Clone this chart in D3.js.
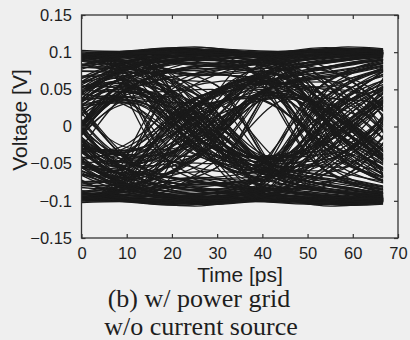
<!DOCTYPE html>
<html>
<head>
<meta charset="utf-8">
<script src="https://cdn.jsdelivr.net/npm/d3@7"></script>
<style>
  body { margin: 0; background: #efefef; }
  svg { display: block; }
</style>
</head>
<body>
<svg id="chart" width="410" height="340"></svg>
<script>
// sample instants (ps): crossing, bit centre, crossing, bit centre, crossing, bit centre
const sampleTimes = [-7, 9, 25, 41, 57, 73];
const traceEnd = 66.7;
const timeTicks = [0, 10, 20, 30, 40, 50, 60, 70];
const voltTicks = [-0.15, -0.1, -0.05, 0, 0.05, 0.1, 0.15];

// each row: voltage [V] at sampleTimes, then the trace's timing offset [ps]
const tracesHHH = [
  [0.098, 0.100, 0.103, 0.099, 0.101, 0.098, 0],
  [0.095, 0.097, 0.099, 0.100, 0.104, 0.099, 2],
  [0.100, 0.099, 0.105, 0.098, 0.100, 0.096, -2],
  [0.093, 0.096, 0.100, 0.097, 0.099, 0.100, 3],
  [0.097, 0.100, 0.102, 0.100, 0.103, 0.097, -3],
  [0.099, 0.098, 0.098, 0.096, 0.098, 0.099, 1],
  [0.094, 0.099, 0.104, 0.099, 0.105, 0.100, -1],
  [0.096, 0.097, 0.101, 0.100, 0.100, 0.095, 4],
  [0.012, 0.078, 0.097, 0.099, 0.101, 0.098, 0],
  [-0.030, 0.070, 0.094, 0.100, 0.103, 0.100, 3],
  [0.038, 0.083, 0.099, 0.098, 0.100, 0.097, -2],
  [0.000, 0.074, 0.096, 0.097, 0.102, 0.099, -5],
  [-0.045, 0.066, 0.092, 0.099, 0.099, 0.096, 2],
  [0.025, 0.080, 0.100, 0.100, 0.104, 0.100, -1],
  [-0.012, 0.072, 0.095, 0.096, 0.098, 0.098, 5],
  [0.050, 0.085, 0.101, 0.099, 0.101, 0.097, 1],
  [0.101, 0.094, 0.106, 0.095, 0.107, 0.099, 2],
  [0.090, 0.092, 0.098, 0.094, 0.097, 0.098, -4],
  [0.104, 0.101, 0.107, 0.097, 0.104, 0.100, 0],
  [0.088, 0.090, 0.096, 0.092, 0.099, 0.096, 5],
  [0.055, 0.088, 0.103, 0.097, 0.106, 0.100, -3],
  [-0.055, 0.060, 0.090, 0.094, 0.101, 0.099, 4],
  [0.030, 0.086, 0.104, 0.101, 0.105, 0.098, 4],
  [-0.035, 0.063, 0.088, 0.093, 0.096, 0.097, -6],
  [-0.060, 0.052, 0.080, 0.090, 0.098, 0.099, 1],
  [0.060, 0.090, 0.075, 0.085, 0.094, 0.100, -2],
  [-0.025, 0.058, 0.084, 0.092, 0.097, 0.098, 3],
  [0.075, 0.082, 0.070, 0.079, 0.090, 0.097, 0],
  [-0.050, 0.055, 0.077, 0.088, 0.100, 0.100, -4],
  [0.080, 0.087, 0.081, 0.091, 0.102, 0.099, 5],
  [0.045, 0.070, 0.086, 0.083, 0.088, 0.096, -1],
  [-0.040, 0.050, 0.073, 0.086, 0.095, 0.098, 2]
];
const tracesHHL = [
  [0.097, 0.099, 0.102, 0.090, 0.010, -0.075, 0],
  [0.094, 0.100, 0.100, 0.085, -0.025, -0.082, 2],
  [0.099, 0.096, 0.099, 0.094, 0.038, -0.066, -3],
  [0.100, 0.098, 0.104, 0.080, -0.010, -0.078, 5],
  [0.095, 0.100, 0.097, 0.088, 0.020, -0.070, -1],
  [0.098, 0.097, 0.101, 0.092, -0.040, -0.085, 1],
  [0.092, 0.099, 0.103, 0.078, 0.005, -0.072, -5],
  [0.096, 0.098, 0.098, 0.086, 0.030, -0.068, 3],
  [0.020, 0.076, 0.093, 0.088, -0.005, -0.080, 1],
  [-0.025, 0.068, 0.090, 0.084, 0.025, -0.070, -2],
  [0.035, 0.082, 0.097, 0.091, -0.030, -0.084, 3],
  [0.005, 0.073, 0.095, 0.079, 0.015, -0.074, -5],
  [-0.040, 0.065, 0.089, 0.086, -0.015, -0.079, 0],
  [0.045, 0.084, 0.099, 0.093, 0.040, -0.064, 2],
  [-0.010, 0.071, 0.092, 0.082, -0.035, -0.086, -1],
  [0.028, 0.079, 0.096, 0.090, 0.008, -0.077, 5],
  [0.099, 0.097, 0.105, 0.087, -0.045, -0.090, -6],
  [0.091, 0.093, 0.097, 0.083, 0.055, -0.060, 6],
  [0.103, 0.100, 0.106, 0.089, -0.045, -0.088, -4],
  [0.089, 0.094, 0.095, 0.076, 0.045, -0.062, 4],
  [-0.050, 0.062, 0.087, 0.081, -0.050, -0.087, -5],
  [0.055, 0.087, 0.102, 0.094, 0.050, -0.061, 5],
  [0.000, 0.069, 0.091, 0.085, -0.060, -0.091, -3],
  [0.033, 0.081, 0.100, 0.089, 0.060, -0.058, 3],
  [-0.060, 0.050, 0.078, 0.072, -0.020, -0.080, 1],
  [0.065, 0.088, 0.072, 0.066, 0.030, -0.055, -2],
  [-0.030, 0.057, 0.082, 0.070, -0.040, -0.083, 3],
  [0.078, 0.085, 0.068, 0.074, 0.000, -0.072, 0],
  [-0.048, 0.054, 0.076, 0.063, 0.025, -0.060, -4],
  [0.082, 0.090, 0.080, 0.077, -0.030, -0.079, 5],
  [0.040, 0.066, 0.085, 0.069, 0.015, -0.066, -1],
  [-0.036, 0.052, 0.070, 0.060, -0.010, -0.070, 2]
];
const tracesHLH = [
  [0.098, 0.088, 0.015, -0.045, -0.005, 0.072, 0],
  [0.096, 0.092, -0.020, -0.052, 0.025, 0.078, 3],
  [0.100, 0.082, 0.035, -0.040, -0.030, 0.066, -2],
  [0.094, 0.094, 0.000, -0.058, 0.010, 0.080, -5],
  [0.099, 0.079, -0.035, -0.048, 0.035, 0.070, 2],
  [0.097, 0.090, 0.025, -0.043, -0.015, 0.075, -1],
  [0.093, 0.085, -0.010, -0.055, 0.020, 0.064, 5],
  [0.100, 0.095, 0.045, -0.050, -0.040, 0.082, 1],
  [0.010, 0.036, -0.010, -0.047, 0.005, 0.070, 1],
  [-0.030, 0.042, 0.020, -0.041, -0.020, 0.076, -3],
  [0.025, 0.032, -0.030, -0.056, 0.030, 0.068, 2],
  [-0.005, 0.050, 0.005, -0.044, -0.010, 0.079, -1],
  [0.040, 0.034, 0.030, -0.050, 0.015, 0.062, 5],
  [-0.020, 0.056, -0.015, -0.042, -0.035, 0.074, 0],
  [0.015, 0.038, 0.040, -0.060, 0.040, 0.080, -5],
  [-0.040, 0.045, -0.025, -0.046, 0.000, 0.066, 3],
  [0.097, 0.087, 0.030, -0.042, 0.050, 0.076, 2],
  [0.099, 0.093, -0.045, -0.062, -0.050, 0.068, -6],
  [0.095, 0.081, 0.050, -0.046, 0.040, 0.079, -1],
  [0.100, 0.090, -0.045, -0.054, -0.045, 0.073, 5],
  [-0.050, 0.040, -0.030, -0.064, 0.045, 0.081, -2],
  [0.055, 0.052, 0.015, -0.044, -0.055, 0.063, 1],
  [-0.010, 0.062, 0.045, -0.049, 0.060, 0.077, 0],
  [0.050, 0.033, -0.025, -0.058, -0.060, 0.070, -1],
  [-0.058, 0.055, 0.005, -0.066, 0.000, 0.062, 1],
  [0.062, 0.068, -0.015, -0.070, 0.020, 0.058, -2],
  [-0.028, 0.060, 0.020, -0.061, -0.020, 0.066, 3],
  [0.075, 0.072, -0.030, -0.068, 0.030, 0.055, 0],
  [-0.045, 0.065, 0.035, -0.052, -0.005, 0.069, -3],
  [0.080, 0.075, -0.005, -0.065, -0.025, 0.050, 4],
  [0.040, 0.058, 0.010, -0.072, 0.015, 0.060, -1],
  [-0.035, 0.048, -0.020, -0.063, 0.040, 0.072, 2]
];
const tracesHLL = [
  [0.097, 0.086, 0.010, -0.078, -0.092, -0.098, 0],
  [0.099, 0.091, -0.025, -0.070, -0.088, -0.100, 2],
  [0.094, 0.080, 0.030, -0.083, -0.097, -0.096, -3],
  [0.100, 0.093, -0.005, -0.066, -0.085, -0.099, 5],
  [0.096, 0.084, 0.040, -0.080, -0.094, -0.097, -1],
  [0.098, 0.089, -0.035, -0.074, -0.090, -0.100, 1],
  [0.093, 0.078, 0.020, -0.085, -0.099, -0.098, -5],
  [0.100, 0.094, -0.015, -0.072, -0.087, -0.095, 3],
  [0.005, 0.040, -0.015, -0.070, -0.090, -0.099, 0],
  [-0.035, 0.048, 0.015, -0.076, -0.093, -0.097, -2],
  [0.030, 0.033, -0.035, -0.065, -0.086, -0.100, 3],
  [-0.010, 0.054, 0.025, -0.080, -0.096, -0.098, -5],
  [0.045, 0.036, 0.000, -0.068, -0.089, -0.096, 1],
  [-0.025, 0.044, -0.025, -0.074, -0.092, -0.100, 5],
  [0.020, 0.058, 0.035, -0.082, -0.095, -0.099, -1],
  [-0.045, 0.031, -0.040, -0.067, -0.088, -0.097, 2],
  [0.096, 0.083, 0.055, -0.075, -0.093, -0.099, 5],
  [0.100, 0.092, -0.050, -0.083, -0.098, -0.101, -5],
  [0.092, 0.077, 0.045, -0.061, -0.083, -0.097, 3],
  [0.101, 0.095, -0.060, -0.087, -0.101, -0.100, -4],
  [0.050, 0.046, 0.050, -0.072, -0.091, -0.098, 4],
  [-0.050, 0.035, -0.020, -0.079, -0.095, -0.100, -2],
  [0.040, 0.064, 0.060, -0.063, -0.084, -0.096, 3],
  [-0.030, 0.050, -0.045, -0.086, -0.102, -0.099, -3],
  [-0.058, 0.054, -0.005, -0.058, -0.075, -0.090, 1],
  [0.062, 0.070, 0.020, -0.055, -0.072, -0.095, -2],
  [-0.028, 0.062, -0.025, -0.062, -0.080, -0.092, 3],
  [0.075, 0.074, 0.030, -0.050, -0.068, -0.088, 0],
  [-0.045, 0.066, 0.000, -0.057, -0.078, -0.097, -3],
  [0.080, 0.078, 0.040, -0.052, -0.070, -0.091, 1],
  [0.040, 0.060, -0.035, -0.060, -0.082, -0.094, -1],
  [-0.035, 0.050, 0.015, -0.054, -0.074, -0.089, 2]
];
const tracesLLL = [
  [-0.097, -0.099, -0.102, -0.100, -0.101, -0.098, 1],
  [-0.094, -0.098, -0.100, -0.097, -0.104, -0.100, -2],
  [-0.100, -0.100, -0.105, -0.099, -0.099, -0.097, 3],
  [-0.095, -0.096, -0.098, -0.100, -0.102, -0.099, -3],
  [-0.098, -0.099, -0.103, -0.098, -0.105, -0.096, 0],
  [-0.093, -0.097, -0.099, -0.096, -0.097, -0.100, 4],
  [-0.099, -0.100, -0.104, -0.100, -0.103, -0.098, -1],
  [-0.096, -0.098, -0.101, -0.099, -0.100, -0.095, 2],
  [-0.015, -0.076, -0.096, -0.099, -0.102, -0.099, 1],
  [0.030, -0.068, -0.093, -0.100, -0.100, -0.097, -3],
  [-0.040, -0.084, -0.100, -0.098, -0.103, -0.100, 2],
  [0.005, -0.072, -0.095, -0.097, -0.099, -0.096, 5],
  [0.042, -0.065, -0.091, -0.100, -0.104, -0.098, -2],
  [-0.025, -0.081, -0.099, -0.099, -0.101, -0.100, 0],
  [0.015, -0.070, -0.094, -0.096, -0.098, -0.097, -5],
  [-0.050, -0.086, -0.102, -0.100, -0.105, -0.099, 3],
  [-0.101, -0.094, -0.106, -0.095, -0.107, -0.099, -2],
  [-0.090, -0.092, -0.098, -0.094, -0.097, -0.098, 4],
  [-0.104, -0.101, -0.107, -0.097, -0.104, -0.100, 0],
  [-0.088, -0.090, -0.096, -0.092, -0.099, -0.096, -5],
  [-0.055, -0.088, -0.103, -0.097, -0.106, -0.100, 3],
  [0.055, -0.060, -0.090, -0.094, -0.101, -0.099, 4],
  [-0.030, -0.086, -0.104, -0.101, -0.105, -0.098, -4],
  [0.035, -0.063, -0.088, -0.093, -0.096, -0.097, 6],
  [0.060, -0.052, -0.080, -0.090, -0.098, -0.099, -1],
  [-0.060, -0.090, -0.075, -0.085, -0.094, -0.100, 2],
  [0.025, -0.058, -0.084, -0.092, -0.097, -0.098, -3],
  [-0.075, -0.082, -0.070, -0.079, -0.090, -0.097, 0],
  [0.050, -0.055, -0.077, -0.088, -0.100, -0.100, 4],
  [-0.080, -0.087, -0.081, -0.091, -0.102, -0.099, -5],
  [-0.045, -0.070, -0.086, -0.083, -0.088, -0.096, 1],
  [0.040, -0.050, -0.073, -0.086, -0.095, -0.098, -2]
];
const tracesLLH = [
  [-0.098, -0.099, -0.101, -0.089, -0.010, 0.076, 1],
  [-0.095, -0.100, -0.099, -0.084, 0.025, 0.083, -2],
  [-0.100, -0.097, -0.104, -0.093, -0.035, 0.067, 3],
  [-0.093, -0.098, -0.100, -0.079, 0.010, 0.079, -5],
  [-0.097, -0.100, -0.098, -0.087, -0.020, 0.071, 0],
  [-0.099, -0.096, -0.102, -0.091, 0.040, 0.086, 2],
  [-0.094, -0.099, -0.103, -0.077, -0.005, 0.073, -1],
  [-0.096, -0.098, -0.097, -0.085, -0.030, 0.069, 5],
  [-0.020, -0.077, -0.094, -0.087, 0.005, 0.081, 0],
  [0.025, -0.069, -0.091, -0.083, -0.025, 0.071, 3],
  [-0.035, -0.083, -0.098, -0.090, 0.030, 0.085, -2],
  [-0.005, -0.072, -0.094, -0.080, -0.015, 0.075, 5],
  [0.040, -0.066, -0.090, -0.085, 0.015, 0.078, -1],
  [-0.045, -0.085, -0.100, -0.092, -0.040, 0.065, 1],
  [0.010, -0.070, -0.093, -0.081, 0.035, 0.087, -3],
  [-0.028, -0.080, -0.097, -0.089, -0.008, 0.076, 2],
  [-0.099, -0.097, -0.105, -0.087, 0.045, 0.090, -6],
  [-0.091, -0.093, -0.097, -0.083, -0.055, 0.060, 6],
  [-0.103, -0.100, -0.106, -0.089, 0.045, 0.088, -4],
  [-0.089, -0.094, -0.095, -0.076, -0.045, 0.062, 4],
  [0.050, -0.062, -0.087, -0.081, 0.050, 0.087, -5],
  [-0.055, -0.087, -0.102, -0.094, -0.050, 0.061, 5],
  [0.000, -0.069, -0.091, -0.085, 0.060, 0.091, -3],
  [-0.033, -0.081, -0.100, -0.089, -0.060, 0.058, 3],
  [0.060, -0.050, -0.078, -0.072, 0.020, 0.080, -1],
  [-0.065, -0.088, -0.072, -0.066, -0.030, 0.055, 2],
  [0.030, -0.057, -0.082, -0.070, 0.040, 0.083, -3],
  [-0.078, -0.085, -0.068, -0.074, 0.000, 0.072, 0],
  [0.048, -0.054, -0.076, -0.063, -0.025, 0.060, 4],
  [-0.082, -0.090, -0.080, -0.077, 0.030, 0.079, -5],
  [-0.040, -0.066, -0.085, -0.069, -0.015, 0.066, 1],
  [0.036, -0.052, -0.070, -0.060, 0.010, 0.070, -2]
];
const tracesLHL = [
  [-0.097, -0.087, -0.015, 0.046, 0.005, -0.073, 1],
  [-0.095, -0.093, 0.020, 0.038, -0.025, -0.079, -3],
  [-0.100, -0.081, -0.035, 0.054, 0.030, -0.065, 2],
  [-0.093, -0.094, 0.000, 0.040, -0.010, -0.081, -5],
  [-0.099, -0.080, 0.035, 0.058, 0.035, -0.069, 3],
  [-0.096, -0.089, -0.025, 0.042, -0.015, -0.076, 0],
  [-0.094, -0.086, 0.010, 0.050, 0.020, -0.063, -1],
  [-0.100, -0.095, -0.045, 0.037, -0.040, -0.083, 5],
  [-0.010, -0.035, 0.010, 0.048, -0.005, -0.071, 0],
  [0.030, -0.041, -0.020, 0.040, 0.020, -0.077, 2],
  [-0.025, -0.031, 0.030, 0.057, -0.030, -0.067, -3],
  [0.005, -0.049, -0.005, 0.043, 0.010, -0.080, 1],
  [-0.040, -0.033, -0.030, 0.052, -0.015, -0.063, -5],
  [0.020, -0.055, 0.015, 0.039, 0.035, -0.073, 5],
  [-0.015, -0.037, -0.040, 0.060, -0.040, -0.081, -1],
  [0.040, -0.044, 0.025, 0.045, 0.000, -0.065, 3],
  [-0.097, -0.087, -0.030, 0.042, -0.050, -0.076, 2],
  [-0.099, -0.093, 0.045, 0.062, 0.050, -0.068, -6],
  [-0.095, -0.081, -0.050, 0.046, -0.040, -0.079, -1],
  [-0.100, -0.090, 0.045, 0.054, 0.045, -0.073, 5],
  [0.050, -0.040, 0.030, 0.064, -0.045, -0.081, -2],
  [-0.055, -0.052, -0.015, 0.044, 0.055, -0.063, 1],
  [0.010, -0.062, -0.045, 0.049, -0.060, -0.077, 0],
  [-0.050, -0.033, 0.025, 0.058, 0.060, -0.070, -1],
  [0.058, -0.055, -0.005, 0.066, 0.000, -0.062, -1],
  [-0.062, -0.068, 0.015, 0.070, -0.020, -0.058, 2],
  [0.028, -0.060, -0.020, 0.061, 0.020, -0.066, -3],
  [-0.075, -0.072, 0.030, 0.068, -0.030, -0.055, 0],
  [0.045, -0.065, -0.035, 0.052, 0.005, -0.069, 1],
  [-0.080, -0.075, 0.005, 0.065, 0.025, -0.050, -4],
  [-0.040, -0.058, -0.010, 0.072, -0.015, -0.060, 1],
  [0.035, -0.048, 0.020, 0.063, -0.040, -0.072, -2]
];
const tracesLHH = [
  [-0.097, -0.085, -0.010, 0.077, 0.091, 0.098, 1],
  [-0.099, -0.091, 0.025, 0.069, 0.087, 0.100, -2],
  [-0.094, -0.079, -0.030, 0.082, 0.096, 0.097, 3],
  [-0.100, -0.092, 0.005, 0.065, 0.084, 0.099, -5],
  [-0.096, -0.083, -0.040, 0.079, 0.093, 0.096, 0],
  [-0.098, -0.090, 0.035, 0.073, 0.089, 0.100, 2],
  [-0.093, -0.077, -0.020, 0.084, 0.098, 0.098, -1],
  [-0.100, -0.095, 0.015, 0.071, 0.086, 0.095, 5],
  [-0.005, -0.039, 0.015, 0.071, 0.089, 0.099, 1],
  [0.035, -0.047, -0.015, 0.077, 0.092, 0.097, -3],
  [-0.030, -0.032, 0.035, 0.064, 0.085, 0.100, 2],
  [0.010, -0.053, -0.025, 0.081, 0.095, 0.098, 5],
  [-0.045, -0.036, 0.000, 0.067, 0.088, 0.096, -1],
  [0.025, -0.043, 0.025, 0.075, 0.091, 0.100, 0],
  [-0.020, -0.057, -0.035, 0.083, 0.097, 0.099, -5],
  [0.045, -0.030, 0.040, 0.066, 0.087, 0.097, 3],
  [-0.096, -0.083, -0.055, 0.075, 0.093, 0.099, 5],
  [-0.100, -0.092, 0.050, 0.083, 0.098, 0.101, -5],
  [-0.092, -0.077, -0.045, 0.061, 0.083, 0.097, 3],
  [-0.101, -0.095, 0.060, 0.087, 0.101, 0.100, -4],
  [-0.050, -0.046, -0.050, 0.072, 0.091, 0.098, 4],
  [0.050, -0.035, 0.020, 0.079, 0.095, 0.100, -2],
  [-0.040, -0.064, -0.060, 0.063, 0.084, 0.096, 3],
  [0.030, -0.050, 0.045, 0.086, 0.102, 0.099, -3],
  [0.058, -0.054, 0.005, 0.058, 0.075, 0.090, -1],
  [-0.062, -0.070, -0.020, 0.055, 0.072, 0.095, 2],
  [0.028, -0.062, 0.025, 0.062, 0.080, 0.092, -3],
  [-0.075, -0.074, -0.030, 0.050, 0.068, 0.088, 0],
  [0.045, -0.066, 0.000, 0.057, 0.078, 0.097, 3],
  [-0.080, -0.078, -0.040, 0.052, 0.070, 0.091, 1],
  [-0.040, -0.060, 0.035, 0.060, 0.082, 0.094, -1],
  [0.035, -0.050, -0.015, 0.054, 0.074, 0.089, 2]
];

const svg = d3.select('#chart');
const margin = { top: 15, right: 12, bottom: 102, left: 81.5 };
const width = 410 - margin.left - margin.right;
const height = 340 - margin.top - margin.bottom;

const g = svg.append('g')
  .attr('transform', 'translate(' + margin.left + ',' + margin.top + ')');

const x = d3.scaleLinear().domain([0, 70]).range([0, width]);
const y = d3.scaleLinear().domain([-0.15, 0.15]).range([height, 0]);

g.append('clipPath').attr('id', 'traceClip')
  .append('rect')
  .attr('x', x(0)).attr('y', 0)
  .attr('width', x(traceEnd) - x(0)).attr('height', height);

const line = d3.line()
  .x(d => x(d[0]))
  .y(d => y(d[1]))
  .curve(d3.curveMonotoneX);

const traces = [].concat(tracesHHH, tracesHHL, tracesHLH, tracesHLL,
  tracesLLL, tracesLLH, tracesLHL, tracesLHH);

g.append('g')
  .attr('clip-path', 'url(#traceClip)')
  .selectAll('path')
  .data(traces)
  .enter().append('path')
  .attr('d', row => line(sampleTimes.map((t, i) => [t + row[6], row[i]])))
  .attr('fill', 'none')
  .attr('stroke', '#1a1a1a')
  .attr('stroke-width', 1.3);

// axes: ticks point inwards on all four sides
const font = "'Liberation Sans', Arial, sans-serif";

g.append('g')
  .attr('transform', 'translate(0,' + height + ')')
  .call(d3.axisBottom(x).tickValues(timeTicks).tickSizeInner(-4).tickSizeOuter(0).tickPadding(9));
g.append('g')
  .call(d3.axisLeft(y).tickValues(voltTicks).tickFormat(d => d3.format('')(+d.toFixed(2)))
    .tickSizeInner(-4).tickSizeOuter(0).tickPadding(9.5));
g.append('g')
  .call(d3.axisTop(x).tickValues(timeTicks).tickFormat('').tickSizeInner(-4).tickSizeOuter(0));
g.append('g')
  .attr('transform', 'translate(' + width + ',0)')
  .call(d3.axisRight(y).tickValues(voltTicks).tickFormat('').tickSizeInner(-4).tickSizeOuter(0));

g.selectAll('.domain').remove();
g.selectAll('.tick line').attr('stroke', '#333').attr('stroke-width', 1.2);
g.selectAll('.tick text').attr('fill', '#1e1e1e').style('font-family', font).style('font-size', '16.5px');

g.append('rect')
  .attr('width', width).attr('height', height)
  .attr('fill', 'none').attr('stroke', '#333').attr('stroke-width', 1.3);

svg.append('text')
  .attr('x', 240).attr('y', 282)
  .attr('text-anchor', 'middle')
  .style('font-family', font).style('font-size', '21px').attr('fill', '#1e1e1e')
  .text('Time [ps]');

svg.append('text')
  .attr('transform', 'translate(27,120) rotate(-90)')
  .attr('text-anchor', 'middle')
  .style('font-family', font).style('font-size', '21px').attr('fill', '#1e1e1e')
  .text('Voltage [V]');

const caption = svg.append('text')
  .attr('text-anchor', 'middle')
  .style('font-family', "'Liberation Serif', 'Times New Roman', serif")
  .style('font-size', '26px').attr('fill', '#1e1e1e');
caption.append('tspan').attr('x', 199).attr('y', 307).text('(b) w/ power grid');
caption.append('tspan').attr('x', 201).attr('y', 335).text('w/o current source');
</script>
</body>
</html>
